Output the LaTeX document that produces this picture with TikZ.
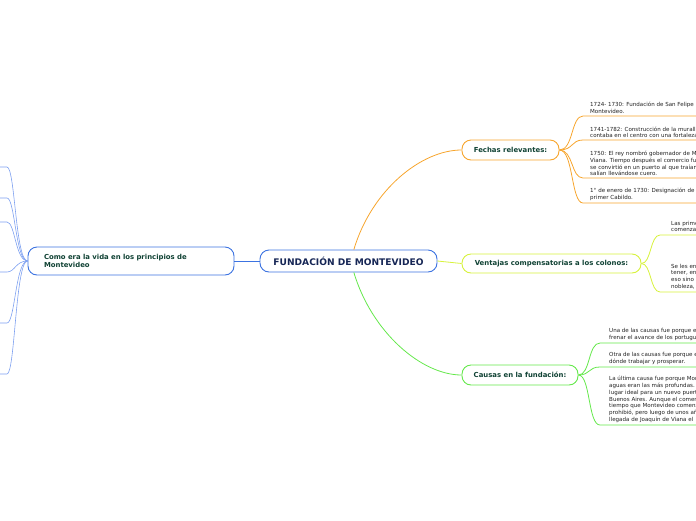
\documentclass[tikz,border=0pt]{standalone}
\usepackage{fontspec}
\setmainfont{DejaVu Sans}
\definecolor{MapBlue}{RGB}{60,115,225}
\definecolor{LineBlue}{RGB}{125,160,240}
\definecolor{MapOrange}{RGB}{247,165,45}
\definecolor{MapLime}{RGB}{215,242,60}
\definecolor{MapGreen}{RGB}{100,232,75}
\definecolor{TopicNavy}{RGB}{22,38,85}
\definecolor{LabelGreen}{RGB}{16,66,52}
\definecolor{LeafInk}{RGB}{35,35,35}
\usetikzlibrary{positioning}

\tikzset{
  topic/.style={draw=MapBlue, fill=white, rounded corners=9pt, line width=0.9pt,
    font=\fontsize{9.1}{11}\selectfont\bfseries, text=TopicNavy,
    minimum height=22pt, inner sep=0pt},
  branch/.style={draw=#1, fill=white, rounded corners=9pt, line width=0.9pt,
    font=\fontsize{6.9}{8}\selectfont\bfseries, text=LabelGreen,
    minimum height=20pt, inner sep=0pt},
  leaf/.style={anchor=south west, inner sep=0pt, align=left,
    font=\fontsize{5.55}{6.7}\selectfont, text=LeafInk},
  link/.style={line width=0.8pt},
}

\begin{document}
\begin{tikzpicture}[x=1pt, y=-1pt]
  \clip (0,0) rectangle (696,520);

  % main topic and its four branches
  \node[topic, minimum width=177pt] (root) at (348.5,261) {FUNDACIÓN DE MONTEVIDEO};
  \node[branch=MapBlue, minimum width=206pt, minimum height=28pt, text width=174pt,
        align=left, inner xsep=16pt] (life) at (131,261)
        {Como era la vida en los principios de\\Montevideo};
  \node[branch=MapOrange, minimum width=97pt] (dates) at (510.5,150) {Fechas relevantes:};
  \node[branch=MapLime, minimum width=179pt, minimum height=19pt] (gains) at (551.5,263.5)
        {Ventajas compensatorias a los colonos:};
  \node[branch=MapGreen, minimum width=116pt] (causes) at (520,375) {Causas en la fundación:};

  \draw[link, MapBlue] (root.west) -- (life.east);
  \draw[link, MapLime] (root.east) -- (gains.west);
  \draw[link, MapOrange] (root.65) .. controls +(18,-60) and +(-40,0) .. (dates.west);
  \draw[link, MapGreen] (root.-65) .. controls +(18,60) and +(-40,0) .. (causes.west);

  % fechas relevantes
  \node[leaf] (d1) at (590,113.5) {1724- 1730: Fundación de San Felipe\\Montevideo.};
  \node[leaf] (d2) at (590,138) {1741-1782: Construcción de la muralla\\contaba en el centro con una fortaleza};
  \node[leaf] (d3) at (590,176) {1750: El rey nombró gobernador de M\\Viana. Tiempo después el comercio fu\\se convirtió en un puerto al que traían\\salían llevándose cuero.};
  \node[leaf] (d4) at (590,200.5) {1° de enero de 1730: Designación de\\primer Cabildo.};
  \coordinate (d1u) at (583,116);
  \coordinate (d2u) at (583,140);
  \coordinate (d3u) at (583,178);
  \coordinate (d4u) at (583,203);
  \foreach \u in {d1u,d2u,d3u,d4u}
    \draw[link, MapOrange] (dates.east) .. controls +(14,0) and +(-12,0) .. (\u) -- ++(120,0);

  % ventajas
  \node[leaf] (g1) at (671,232) {Las prime\\comenza};
  \node[leaf] (g2) at (671,289) {Se les en\\tener, en\\eso sino\\nobleza,};
  \coordinate (g1u) at (660,235);
  \coordinate (g2u) at (660,292);
  \foreach \u in {g1u,g2u}
    \draw[link, MapLime] (gains.east) .. controls +(10,0) and +(-10,0) .. (\u) -- ++(60,0);

  % causas
  \node[leaf] (c1) at (609,340.5) {Una de las causas fue porque e\\frenar el avance de los portugu};
  \node[leaf] (c2) at (609,364.5) {Otra de las causas fue porque e\\dónde trabajar y prosperar.};
  \node[leaf] (c3) at (609,422.5) {La última causa fue porque Mon\\aguas eran las más profundas.\\lugar ideal para un nuevo puert\\Buenos Aires. Aunque el comer\\tiempo que Montevideo comenz\\prohibió, pero luego de unos añ\\llegada de Joaquín de Viana el};
  \coordinate (c1u) at (600,343);
  \coordinate (c2u) at (600,367);
  \coordinate (c3u) at (600,425);
  \foreach \u in {c1u,c2u,c3u}
    \draw[link, MapGreen] (causes.east) .. controls +(12,0) and +(-12,0) .. (\u) -- ++(100,0);

  % vida en los principios (ramas fuera del cuadro)
  \foreach \n/\y in {l1/167, l2/198, l3/222, l4/272, l5/323, l6/374}
    \coordinate (\n) at (7,\y);
  \foreach \n in {l1,l2,l3,l4,l5,l6}
    \draw[line width=0.6pt, LineBlue] (life.west) .. controls +(-12,0) and +(8,0) .. (\n) -- ++(-10,0);
\end{tikzpicture}
\end{document}
